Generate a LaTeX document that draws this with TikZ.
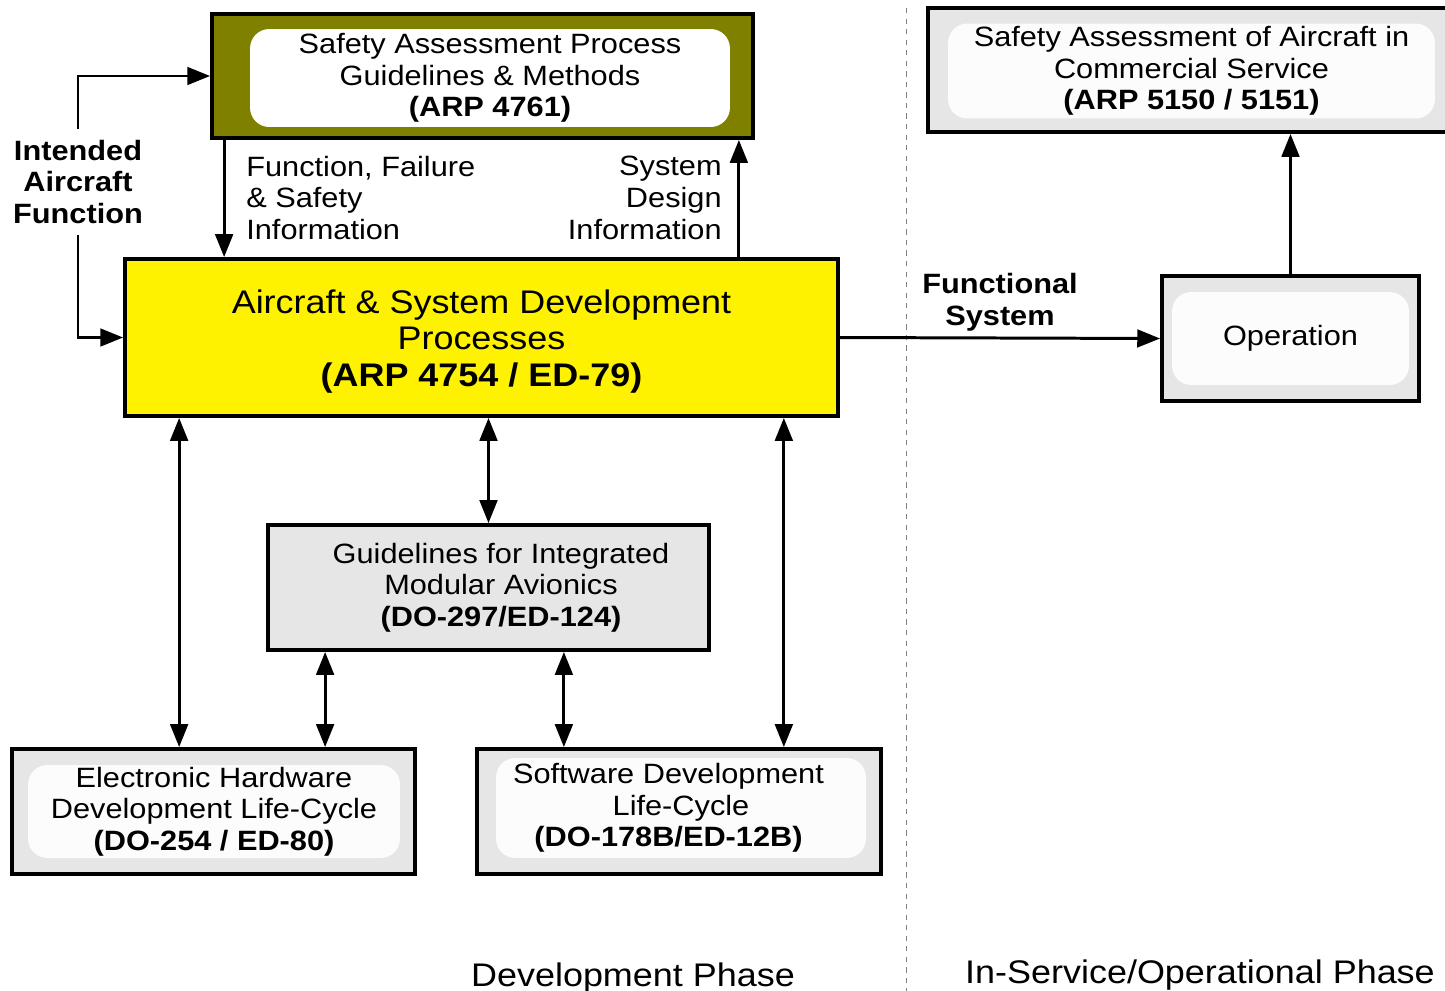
\documentclass[tikz,border=0pt]{standalone}
\usepackage{fontspec}
\setmainfont{Liberation Sans}[FakeStretch=1.1]
\usetikzlibrary{arrows.meta,calc}
\definecolor{sapolive}{RGB}{128,128,0}
\definecolor{boxgray}{RGB}{230,230,230}
\definecolor{innerwhite}{RGB}{252,252,252}
\tikzset{
  outerbox/.style={draw,line width=2.2pt,fill=boxgray,inner sep=0pt},
  innerbox/.style={fill=innerwhite,rounded corners=11pt,align=center,inner sep=0pt,font=\txtfont},
  lbl/.style={inner sep=0pt,font=\txtfont},
  conn/.style={line width=1.7pt},
}
\newcommand{\txtfont}{\fontsize{15.9}{18}\selectfont}
\newcommand{\bigfont}{\fontsize{18.6}{21}\selectfont}
\begin{document}
\begin{tikzpicture}[x=0.02cm,y=-0.02cm,>={Triangle[length=13pt,width=10pt]}]
    \useasboundingbox (0,0) rectangle (1445,991);

    % development side
    \node[outerbox,fill=sapolive,minimum width=10.82cm,minimum height=2.48cm] (sap) at (482.5,76) {};
    \node[innerbox,fill=white,minimum width=9.6cm,minimum height=1.96cm] (sapin) at (490,78)
        {Safety Assessment Process\\Guidelines \& Methods\\\textbf{(ARP 4761)}};

    \node[outerbox,fill=yellow,minimum width=14.26cm,minimum height=3.14cm,align=center,font=\bigfont] (acsys) at (481.5,337.5)
        {\rule{0pt}{18pt}Aircraft \& System Development\\Processes\\\textbf{(ARP 4754 / ED-79)}};

    \node[outerbox,minimum width=8.82cm,minimum height=2.5cm,align=center,font=\txtfont] (ima) at (488.5,587.5)
        {\hspace*{0.5cm}Guidelines for Integrated\\\hspace*{0.5cm}Modular Avionics\\\hspace*{0.5cm}\textbf{(DO-297/ED-124)}};

    \node[outerbox,minimum width=8.06cm,minimum height=2.5cm] (ehw) at (213.5,811.5) {};
    \node[innerbox,minimum width=7.44cm,minimum height=1.86cm] (ehwin) at (214,811.5)
        {Electronic Hardware\\Development Life-Cycle\\\textbf{(DO-254 / ED-80)}};

    \node[outerbox,minimum width=8.08cm,minimum height=2.5cm] (sw) at (679,811.5) {};
    \node[innerbox,minimum width=7.4cm,minimum height=2cm] (swin) at (681,808)
        {Software Development\hspace*{0.5cm}\\Life-Cycle\hspace*{0.5cm}\\\textbf{(DO-178B/ED-12B)}\hspace*{0.5cm}};

    % in-service side
    \node[outerbox,minimum width=10.44cm,minimum height=2.48cm] (saac) at (1189,70) {};
    \node[innerbox,minimum width=9.74cm,minimum height=1.9cm] (saacin) at (1191.5,71)
        {Safety Assessment of Aircraft in\\Commercial Service\\\textbf{(ARP 5150 / 5151)}};

    \node[outerbox,minimum width=5.14cm,minimum height=2.5cm] (op) at (1290.5,338.5) {};
    \node[innerbox,minimum width=4.74cm,minimum height=1.86cm] (opin) at (1290.5,338.5) {Operation};

    % labels
    \node[lbl,inner ysep=6pt,align=center,font=\txtfont\bfseries] (iaf) at (78,182) {Intended\\Aircraft\\Function};
    \node[lbl,align=left,anchor=west] (ffsi) at (246,198) {Function, Failure\\\& Safety\\Information};
    \node[lbl,align=right,anchor=east] (sdi) at (722,198) {System\\Design\\Information};
    \node[lbl,align=center,font=\txtfont\bfseries] (fsys) at (1000,302) {Functional\\System};
    \node[lbl,font=\bigfont] (devph) at (633,978) {Development Phase};
    \node[lbl,font=\bigfont] (insph) at (1200,975) {In-Service/Operational Phase};

    % phase separator
    \draw[dashed,thin,gray] (906,8) -- (906,991);

    % connectors
    \coordinate (down) at ($(sap.south west)+(14,0)$);
    \coordinate (up) at ($(sap.south east)+(-16,0)$);
    \coordinate (ehwa) at ($(acsys.south west)+(56,0)$);
    \coordinate (swa) at ($(acsys.south east)+(-56,0)$);
    \coordinate (imaeh) at ($(ima.south west)+(59,0)$);
    \coordinate (imasw) at ($(ima.south east)+(-147,0)$);

    \draw[conn,->] (iaf.north) -- (iaf.north |- sap.west) -- (sap.west);
    \draw[conn,->] (iaf.south) -- (iaf.south |- acsys.west) -- (acsys.west);
    \draw[conn,->] (down) -- (down |- acsys.north);
    \draw[conn,->] (up |- acsys.north) -- (up);
    \draw[conn,->] (acsys.east) -- (op.west);
    \draw[conn,->] (op.north) -- (op.north |- saac.south);
    \draw[conn,<->] (ehwa) -- (ehwa |- ehw.north);
    \draw[conn,<->] (ima.north |- acsys.south) -- (ima.north);
    \draw[conn,<->] (swa) -- (swa |- sw.north);
    \draw[conn,<->] (imaeh) -- (imaeh |- ehw.north);
    \draw[conn,<->] (imasw) -- (imasw |- sw.north);

\end{tikzpicture}
\end{document}
